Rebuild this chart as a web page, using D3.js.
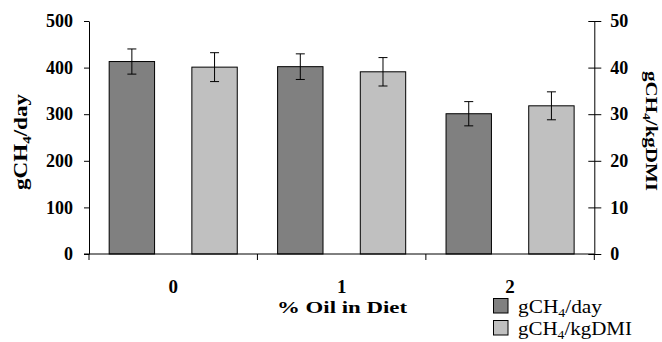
<!DOCTYPE html>
<html><head><meta charset="utf-8">
<script src="https://cdn.jsdelivr.net/npm/d3@7"></script>
<style>
html,body{margin:0;padding:0;background:#fff;}
svg{display:block;}
svg text{font-family:"Liberation Serif","Times New Roman",serif !important;}
</style></head>
<body>
<script>
const categories = ["0", "1", "2"];
const seriesNames = ["gCH4/day", "gCH4/kgDMI"];
const perDay = [413, 402, 301];
const perDayErr = [27, 27.5, 26];
const perDMI = [40.1, 39.1, 31.8];
const perDMIErr = [3.1, 3.05, 3.0];
const leftTicks = [0, 100, 200, 300, 400, 500];
const rightTicks = [0, 10, 20, 30, 40, 50];

const W = 662, H = 342;
const svg = d3.select("body").append("svg").attr("width", W).attr("height", H);

const x = d3.scaleBand().domain(categories).range([89, 594.3]).paddingInner(0).paddingOuter(0);
const xs = d3.scaleBand().domain(["day", "dmi"]).range([0, x.bandwidth()]).paddingInner(0.451).paddingOuter(0.244);
const yL = d3.scaleLinear().domain([0, 500]).range([254, 21]);
const yR = d3.scaleLinear().domain([0, 50]).range([254, 21]);

const colors = {day: "#808080", dmi: "#c0c0c0"};

const rows = categories.map((c, i) => ({c, day: perDay[i], dayE: perDayErr[i], dmi: perDMI[i], dmiE: perDMIErr[i]}));
const g = svg.append("g");
rows.forEach(r => {
  const x0 = x(r.c);
  g.append("rect").attr("x", x0 + xs("day")).attr("y", yL(r.day)).attr("width", xs.bandwidth())
    .attr("height", yL(0) - yL(r.day)).attr("fill", colors.day).attr("stroke", "#000").attr("stroke-width", 1);
  g.append("rect").attr("x", x0 + xs("dmi")).attr("y", yR(r.dmi)).attr("width", xs.bandwidth())
    .attr("height", yR(0) - yR(r.dmi)).attr("fill", colors.dmi).attr("stroke", "#000").attr("stroke-width", 1);
  const eb = (cx, yTop, yBot) => {
    g.append("line").attr("x1", cx).attr("x2", cx).attr("y1", yTop).attr("y2", yBot).attr("stroke", "#000");
    [yTop, yBot].forEach(yy => g.append("line").attr("x1", cx - 4.5).attr("x2", cx + 4.5).attr("y1", yy).attr("y2", yy).attr("stroke", "#000"));
  };
  eb(x0 + xs("day") + xs.bandwidth() / 2, yL(r.day + r.dayE), yL(r.day - r.dayE));
  eb(x0 + xs("dmi") + xs.bandwidth() / 2, yR(r.dmi + r.dmiE), yR(r.dmi - r.dmiE));
});

const axL = svg.append("g").attr("transform", "translate(89,0)")
  .call(d3.axisLeft(yL).tickValues(leftTicks).tickSize(5).tickPadding(11).tickSizeOuter(0));
axL.select(".domain").attr("stroke", "#000");
axL.selectAll("text").attr("font-size", 18).attr("font-weight", "bold").attr("fill", "#000");

const axR = svg.append("g").attr("transform", "translate(594.3,0)")
  .call(d3.axisRight(yR).tickValues(rightTicks).tickSize(7).tickPadding(9).tickSizeOuter(0));
axR.selectAll(".tick line").attr("x1", -6);
axR.selectAll("text").attr("font-size", 18).attr("font-weight", "bold").attr("fill", "#000");

svg.append("line").attr("x1", 84).attr("x2", 594.3).attr("y1", 254).attr("y2", 254).attr("stroke", "#000");
[89, 594.3].concat(categories.slice(1).map(c => x(c))).forEach(xx => {
  svg.append("line").attr("x1", xx).attr("x2", xx).attr("y1", 254).attr("y2", 260).attr("stroke", "#000");
});
svg.append("g").selectAll("text").data(categories).join("text")
  .attr("x", d => x(d) + x.bandwidth() / 2).attr("y", 293).attr("text-anchor", "middle")
  .attr("font-size", 19).attr("font-weight", "bold").text(d => d);

svg.append("text").attr("x", 342).attr("y", 312.5).attr("text-anchor", "middle")
  .attr("font-size", 17).attr("font-weight", "bold")
  .attr("textLength", 130).attr("lengthAdjust", "spacingAndGlyphs").text("% Oil in Diet");

function sub4(sel, before, after, fs) {
  sel.append("tspan").text(before);
  sel.append("tspan").attr("font-size", fs * 0.65).attr("dy", fs * 0.2).text("4");
  sel.append("tspan").attr("dy", -fs * 0.2).text(after);
}

const lt = svg.append("text").attr("transform", "translate(27,142) rotate(-90)").attr("text-anchor", "middle")
  .attr("font-size", 18).attr("font-weight", "bold")
  .attr("textLength", 96).attr("lengthAdjust", "spacingAndGlyphs");
sub4(lt, "gCH", "/day", 18);
const rt = svg.append("text").attr("transform", "translate(646,131) rotate(90)").attr("text-anchor", "middle")
  .attr("font-size", 17).attr("font-weight", "bold")
  .attr("textLength", 120).attr("lengthAdjust", "spacingAndGlyphs");
sub4(rt, "gCH", "/kgDMI", 17);

const leg = svg.append("g");
[["day", 298, "/day", 84], ["dmi", 320, "/kgDMI", 114]].forEach(([k, yy, suf, len]) => {
  leg.append("rect").attr("x", 493.5).attr("y", yy + 0.5).attr("width", 14.5).attr("height", 14.5)
    .attr("fill", colors[k]).attr("stroke", "#000");
  const t = leg.append("text").attr("x", 518).attr("y", yy + 15).attr("font-size", 18)
    .attr("textLength", len).attr("lengthAdjust", "spacingAndGlyphs");
  sub4(t, "gCH", suf, 18);
});
</script>
</body></html>
